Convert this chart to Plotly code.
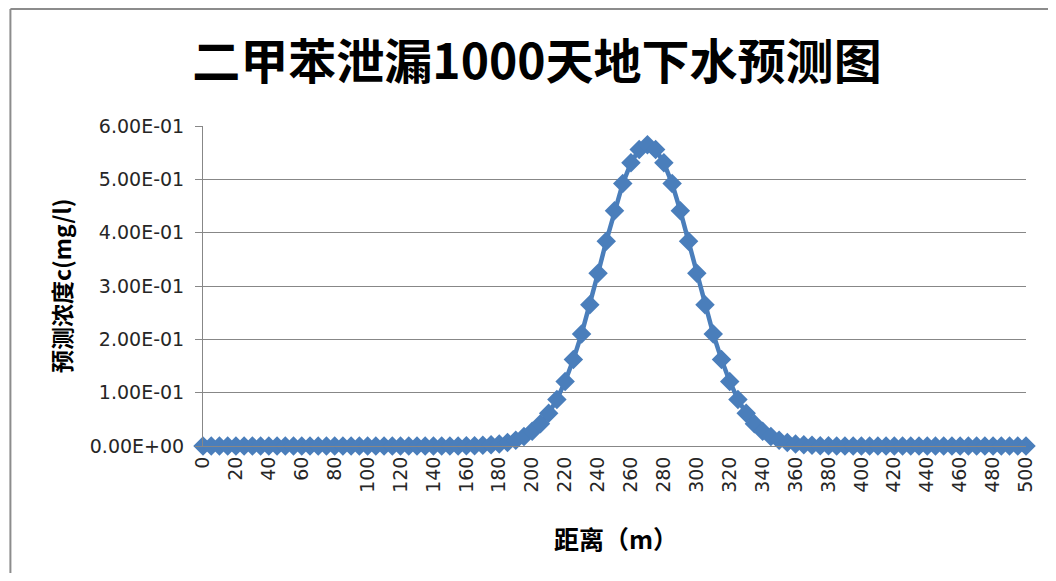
import plotly.graph_objects as go

# ---- data ----
distance_m = list(range(0, 505, 5))  # categories 0..500 m, every 5 m

conc_left_zero = [0.0] * 30          # 0 .. 145 m
conc_plume = [
    0.00008, 0.00016, 0.00032, 0.00063, 0.00118, 0.00215, 0.00381, 0.00654,
    0.0109, 0.0176, 0.0275, 0.0416, 0.0612, 0.0873, 0.121, 0.162, 0.210,
    0.265, 0.324, 0.384, 0.441, 0.492, 0.531, 0.556, 0.565,
    0.556, 0.531, 0.492, 0.441, 0.384, 0.324, 0.265, 0.210, 0.162, 0.121,
    0.0873, 0.0612, 0.0416, 0.0275, 0.0176, 0.0109, 0.00654, 0.00381,
    0.00215, 0.00118, 0.00063, 0.00032, 0.00016, 0.00008,
]                                    # 150 .. 390 m
conc_right_zero = [0.0] * 22         # 395 .. 500 m
concentration = conc_left_zero + conc_plume + conc_right_zero

x_tick_vals = list(range(0, 520, 20))
x_tick_text = [str(v) for v in x_tick_vals]
y_tick_vals = [0.0, 0.1, 0.2, 0.3, 0.4, 0.5, 0.6]
y_tick_text = ["0.00E+00", "1.00E-01", "2.00E-01", "3.00E-01",
               "4.00E-01", "5.00E-01", "6.00E-01"]

title_text = "二甲苯泄漏1000天地下水预测图"
x_title = "距离（m）"
y_title = "预测浓度c(mg/l)"

# ---- layout geometry (page pixels; the page body adds an 8 px offset) ----
OFF = 8
W, H = 1040, 565
L = 203 - OFF
T = 126 - OFF
R = W - (1032 - OFF)
B = H - (446 - OFF)
PW = W - L - R
PH = H - T - B


def px_x(px):
    return (px - OFF - L) / PW


def px_y(py):
    return (H - B - (py - OFF)) / PH


blue = "#4a7ebb"
grid = "#878787"
tick_font = dict(family="DejaVu Sans", size=19, color="#262626")

fig = go.Figure()
fig.add_trace(go.Scatter(
    x=distance_m, y=concentration, mode="lines+markers",
    line=dict(color=blue, width=4.5),
    marker=dict(symbol="diamond", size=15, color=blue),
    cliponaxis=False, showlegend=False,
))

fig.update_layout(
    width=W, height=H,
    margin=dict(l=L, r=R, t=T, b=B),
    paper_bgcolor="white", plot_bgcolor="white",
    title=dict(text=title_text, xref="container", yref="container",
               x=(537 - OFF) / W, y=1 - (62 - OFF) / H,
               xanchor="center", yanchor="middle",
               font=dict(family="Noto Sans CJK SC", size=48, color="black",
                         weight="bold")),
    xaxis=dict(range=[0, 500], tickmode="array", tickvals=x_tick_vals,
               ticktext=x_tick_text, tickangle=-90, tickfont=tick_font,
               showgrid=False, zeroline=False, showline=True,
               linecolor=grid, linewidth=1, ticks="", ticklabelstandoff=2),
    yaxis=dict(range=[0, 0.6], tickmode="array", tickvals=y_tick_vals,
               ticktext=y_tick_text, tickfont=tick_font,
               showgrid=True, gridcolor=grid, gridwidth=1, zeroline=False,
               showline=True, linecolor=grid, linewidth=1,
               ticks="outside", ticklen=7, tickcolor=grid,
               ticklabelstandoff=7),
    annotations=[
        dict(text=y_title, xref="paper", yref="paper", x=px_x(60), y=0.5,
             textangle=-90, showarrow=False, xanchor="center",
             yanchor="middle",
             font=dict(family="Noto Sans CJK SC", size=23, color="black",
                       weight="bold")),
        dict(text=x_title, xref="paper", yref="paper", x=px_x(619),
             y=px_y(538), showarrow=False, xanchor="center",
             yanchor="middle",
             font=dict(family="Noto Sans CJK SC", size=25, color="black",
                       weight="bold")),
    ],
    shapes=[
        dict(type="line", xref="paper", yref="paper",
             x0=px_x(9), x1=px_x(1060), y0=px_y(9), y1=px_y(9),
             line=dict(color="#8c8c8c", width=2)),
        dict(type="line", xref="paper", yref="paper",
             x0=px_x(9), x1=px_x(9), y0=px_y(9), y1=px_y(600),
             line=dict(color="#8c8c8c", width=2)),
    ],
)

fig.write_html("out.html")
